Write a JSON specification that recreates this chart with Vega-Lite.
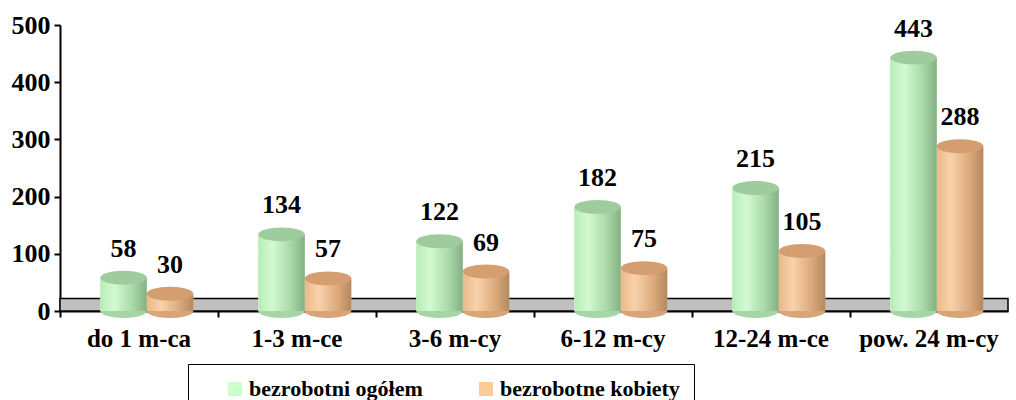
{
  "$schema": "https://vega.github.io/schema/vega-lite/v6.json",
  "width": 948,
  "height": 286,
  "autosize": "none",
  "padding": {"left": 60, "top": 25, "right": 8, "bottom": 89},
  "background": "white",
  "config": {
    "view": {"stroke": null},
    "font": "Liberation Serif"
  },
  "datasets": {
    "main": [
      {"okres": "do 1 m-ca", "series": "bezrobotni ogółem", "value": 58},
      {"okres": "do 1 m-ca", "series": "bezrobotne kobiety", "value": 30},
      {"okres": "1-3 m-ce", "series": "bezrobotni ogółem", "value": 134},
      {"okres": "1-3 m-ce", "series": "bezrobotne kobiety", "value": 57},
      {"okres": "3-6 m-cy", "series": "bezrobotni ogółem", "value": 122},
      {"okres": "3-6 m-cy", "series": "bezrobotne kobiety", "value": 69},
      {"okres": "6-12 m-cy", "series": "bezrobotni ogółem", "value": 182},
      {"okres": "6-12 m-cy", "series": "bezrobotne kobiety", "value": 75},
      {"okres": "12-24 m-ce", "series": "bezrobotni ogółem", "value": 215},
      {"okres": "12-24 m-ce", "series": "bezrobotne kobiety", "value": 105},
      {"okres": "pow. 24 m-cy", "series": "bezrobotni ogółem", "value": 443},
      {"okres": "pow. 24 m-cy", "series": "bezrobotne kobiety", "value": 288}
    ]
  },
  "layer": [
    {
      "data": {"values": [{"floor": "floor"}]},
      "mark": {"type": "rect", "fill": "#c0c0c0", "stroke": "black", "strokeWidth": 1.5},
      "encoding": {
        "y": {"datum": 0, "type": "quantitative", "scale": {"domain": [0, 500], "nice": false}},
        "y2": {"datum": 22}
      }
    },
    {
      "data": {"name": "main"},
      "encoding": {
        "x": {
          "field": "okres", "type": "nominal", "sort": null,
          "scale": {"paddingInner": 0, "paddingOuter": 0},
          "axis": {
            "title": null, "labelAngle": 0, "bandPosition": 0,
            "labelFont": "Liberation Serif", "labelFontWeight": "bold", "labelFontSize": 25,
            "labelColor": "black", "labelPadding": 9,
            "domainColor": "black", "domainWidth": 2, "tickColor": "black", "tickWidth": 2, "tickSize": 6
          }
        },
        "xOffset": {
          "field": "series", "type": "nominal", "sort": ["bezrobotni ogółem", "bezrobotne kobiety"],
          "scale": {"paddingInner": 0, "paddingOuter": 0.7, "align": 0.62}
        }
      },
      "layer": [
        {
          "mark": {"type": "point", "filled": true, "opacity": 1, "size": 2160,
            "shape": "M-1,0A1,0.3,0,1,0,1,0A1,0.3,0,1,0,-1,0Z"},
          "encoding": {
            "y": {"datum": 0, "type": "quantitative"},
            "fill": {
              "condition": {"test": "datum.series === 'bezrobotni ogółem'", "value": "#a6d6a6"},
              "value": "#d8a478"
            }
          }
        },
        {
          "mark": {"type": "bar"},
          "encoding": {
            "y": {
              "field": "value", "type": "quantitative",
              "scale": {"domain": [0, 500], "nice": false},
              "axis": {
                "title": null, "values": [0, 100, 200, 300, 400, 500], "grid": false,
                "labelFont": "Liberation Serif", "labelFontWeight": "bold", "labelFontSize": 26,
                "labelColor": "black", "labelPadding": 4,
                "domainColor": "black", "domainWidth": 2, "tickColor": "black", "tickWidth": 2, "tickSize": 6
              }
            },
            "color": {
              "field": "series", "type": "nominal",
              "sort": ["bezrobotni ogółem", "bezrobotne kobiety"],
              "scale": {"domain": ["bezrobotni ogółem", "bezrobotne kobiety"], "range": ["#ccffcc", "#ffcc99"]},
              "legend": {
                "title": null,
                "orient": "none", "direction": "horizontal",
                "legendX": 128, "legendY": 339,
                "symbolType": "square", "symbolSize": 196, "symbolOpacity": 1, "symbolStrokeWidth": 0,
                "symbolOffset": 22,
                "labelExpr": "datum.label === 'bezrobotne kobiety' ? datum.label + '\u00a0\u00a0\u00a0\u00a0\u00a0\u00a0\u00a0\u00a0\u00a0\u00a0\u00a0\u00a0\u00a0\u00a0\u00a0\u00a0\u00a0\u00a0\u00a0\u00a0\u00a0\u00a0\u00a0\u00a0\u00a0\u00a0\u00a0\u00a0\u00a0\u00a0\u00a0\u00a0' : datum.label",
                "labelFont": "Liberation Serif", "labelFontWeight": "bold", "labelFontSize": 22,
                "labelColor": "black", "labelLimit": 600, "labelOffset": 3,
                "columnPadding": 30, "padding": 14,
                "strokeColor": "black"
              }
            }
          }
        },
        {
          "mark": {"type": "bar"},
          "encoding": {
            "y": {"field": "value", "type": "quantitative"},
            "fill": {
              "condition": {
                "test": "datum.series === 'bezrobotni ogółem'",
                "value": {"gradient": "linear", "x1": 0, "x2": 1, "y1": 0, "y2": 0,
                  "stops": [{"offset": 0, "color": "#b8ecb8"}, {"offset": 0.3, "color": "#d2fad2"}, {"offset": 0.7, "color": "#a8d8a8"}, {"offset": 1, "color": "#84b084"}]}
              },
              "value": {"gradient": "linear", "x1": 0, "x2": 1, "y1": 0, "y2": 0,
                "stops": [{"offset": 0, "color": "#eab88a"}, {"offset": 0.3, "color": "#f8d2aa"}, {"offset": 0.7, "color": "#dcaa7c"}, {"offset": 1, "color": "#b48860"}]}
            }
          }
        },
        {
          "mark": {"type": "point", "filled": true, "opacity": 1, "size": 2160,
            "shape": "M-1,0A1,0.3,0,1,0,1,0A1,0.3,0,1,0,-1,0Z"},
          "encoding": {
            "y": {"field": "value", "type": "quantitative"},
            "fill": {
              "condition": {"test": "datum.series === 'bezrobotni ogółem'", "value": "#9ecc9e"},
              "value": "#d49e70"
            }
          }
        },
        {
          "mark": {"type": "text", "font": "Liberation Serif", "fontWeight": "bold", "fontSize": 26, "color": "black", "baseline": "alphabetic", "dy": -21},
          "encoding": {
            "y": {"field": "value", "type": "quantitative"},
            "text": {"field": "value", "type": "quantitative"}
          }
        }
      ]
    }
  ]
}
